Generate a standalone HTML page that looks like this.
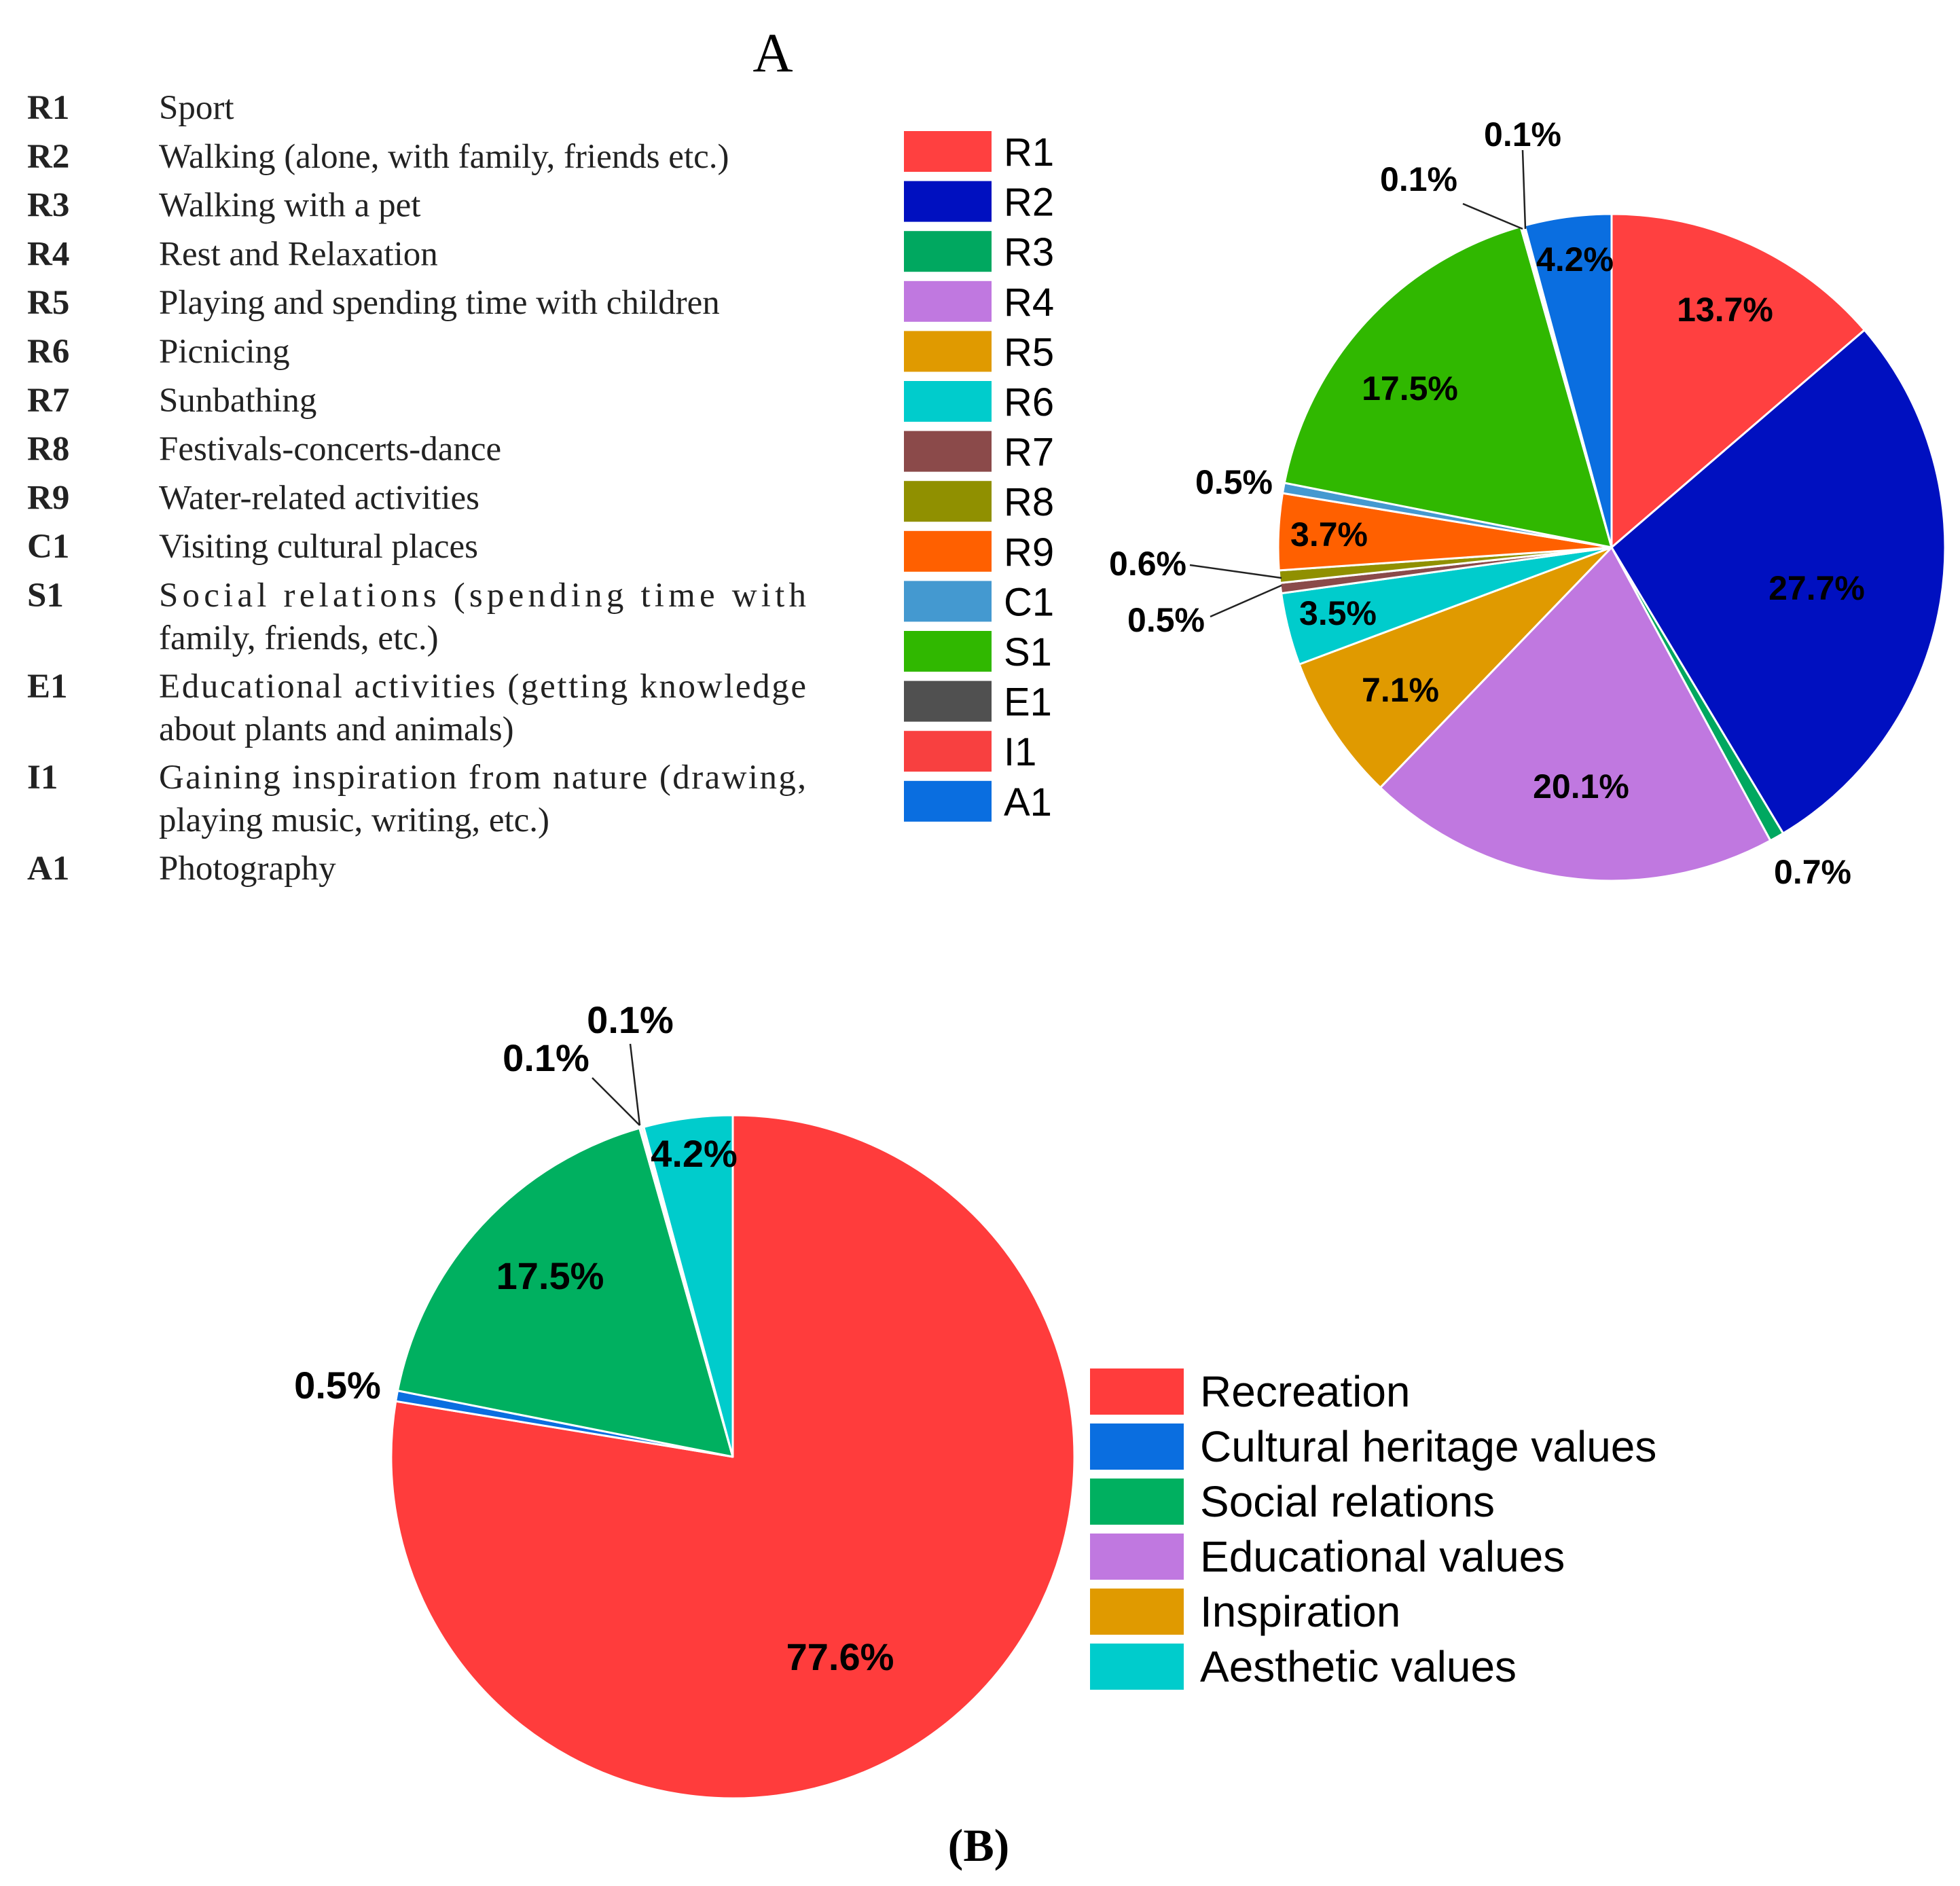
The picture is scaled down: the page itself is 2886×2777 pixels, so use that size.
<!DOCTYPE html>
<html><head><meta charset="utf-8"><style>
html,body{margin:0;padding:0;background:#fff}
svg{display:block}
</style></head><body>
<svg id="chart" width="2886" height="2777" viewBox="0 0 2886 2777" xmlns="http://www.w3.org/2000/svg">
<text x="1138" y="105" font-family="Liberation Serif, serif" font-size="82" text-anchor="middle">A</text>
<g id="codeList" font-family="Liberation Serif, serif" font-size="51" fill="#222"></g>
<g id="legendA" font-family="Liberation Sans, sans-serif" font-size="58"></g>
<g id="pieA"></g>
<g id="labelsA" font-family="Liberation Sans, sans-serif" font-size="50" font-weight="bold"></g>
<g id="pieB"></g>
<g id="labelsB" font-family="Liberation Sans, sans-serif" font-size="56" font-weight="bold"></g>
<g id="legendB" font-family="Liberation Sans, sans-serif" font-size="64"></g>
<text x="1441" y="2740" font-family="Liberation Serif, serif" font-size="68" font-weight="bold" text-anchor="middle">(B)</text>
</svg>
<script>
const NS='http://www.w3.org/2000/svg';
const codesA=['R1','R2','R3','R4','R5','R6','R7','R8','R9','C1','S1','E1','I1','A1'];
const valuesA=[13.7,27.7,0.7,20.1,7.1,3.5,0.5,0.6,3.7,0.5,17.5,0.1,0.1,4.2];
const colorsA=['#ff4040','#0010c0','#00a860','#c078e0','#e09a00','#00cccc','#8b4a4a','#909000','#ff6000','#4499d0','#30b800','#505050','#f84040','#0a6ee0'];
const descA=[['Sport'],[' Walking (alone, with family, friends etc.)'],[' Walking with a pet'],['Rest and Relaxation'],['Playing and spending time with children'],['Picnicing'],['Sunbathing'],[' Festivals-concerts-dance'],['Water-related activities'],['Visiting cultural places'],[' Social   relations   (spending   time   with','family, friends, etc.)'],['Educational activities (getting knowledge','about plants and animals)'],['Gaining inspiration from nature (drawing,','playing music, writing, etc.)'],['Photography']];
const catsB=['Recreation','Cultural heritage values','Social relations','Educational values','Inspiration','Aesthetic values'];
const valuesB=[77.6,0.5,17.5,0.1,0.1,4.2];
const colorsB=['#ff3c3c','#0a6ee0','#00b060','#c078e0','#e09a00','#00cccc'];

function el(tag,attrs,parent){const e=document.createElementNS(NS,tag);for(const k in attrs)e.setAttribute(k,attrs[k]);parent.appendChild(e);return e;}

const cl=document.getElementById('codeList');
let y=175;
codesA.forEach((c,i)=>{
  const t=el('text',{x:40,y:y,'font-weight':'bold'},cl);t.textContent=c;
  
  
  descA[i].forEach((line,j)=>{
    const wrapped=descA[i].length>1&&j===0;
    const a={x:234,y:y+j*63,'xml:space':'preserve'};
    if(wrapped){a.textLength=953;a.lengthAdjust='spacing';}
    const d=el('text',a,cl);d.textContent=line;
    
    
  });
  y+= descA[i].length>1 ? 134 : 71.8;
});

const la=document.getElementById('legendA');
codesA.forEach((c,i)=>{
  const cy=223+i*73.6;
  const r=el('rect',{x:1331,y:cy-30,width:129,height:60,fill:colorsA[i]},la);
  
  
  const t=el('text',{x:1478,y:cy+21},la);t.textContent=c;
  
  
});

function drawPie(g,vals,cols,cx,cy,r,names){
  const tot=vals.reduce((a,b)=>a+b,0);let a0=0;
  vals.forEach((v,i)=>{
    const a1=a0+v/tot*2*Math.PI;
    const x0=cx+r*Math.sin(a0),y0=cy-r*Math.cos(a0),x1=cx+r*Math.sin(a1),y1=cy-r*Math.cos(a1);
    const large=(a1-a0)>Math.PI?1:0;
    const p=el('path',{d:`M${cx},${cy}L${x0},${y0}A${r},${r} 0 ${large} 1 ${x1},${y1}Z`,fill:cols[i],stroke:'#fff','stroke-width':3,'stroke-linejoin':'round'},g);
    
    
    a0=a1;
  });
}
drawPie(document.getElementById('pieA'),valuesA,colorsA,2373,806,491,codesA.map(c=>c.toLowerCase()));
drawPie(document.getElementById('pieB'),valuesB,colorsB,1079,2145,503,catsB.map(c=>c.toLowerCase().replace(/ /g,'-')));

const labPosA=[[2540,473],[2675,883],[2669,1301],[2328,1175],[2062,1033],[1970,920],[1717,930],[1690,847],[1957,804],[1817,727],[2076,589],[2089,281],[2242,215],[2319,399]];
const lA=document.getElementById('labelsA');
valuesA.forEach((v,i)=>{
  const p=labPosA[i];
  const t=el('text',{x:p[0],y:p[1],'text-anchor':'middle'},lA);t.textContent=v.toFixed(1)+'%';
  
  
});
[[2242,221,2246,337],[2154,300,2242,337],[1752,832,1887,851],[1782,908,1887,862]].forEach(l=>{
  const ln=el('line',{x1:l[0],y1:l[1],x2:l[2],y2:l[3],stroke:'#222','stroke-width':2.5},lA);
  
  
});

const labPosB=[[1237,2459],[497,2059],[810,1898],[804,1577],[928,1521],[1022,1718]];
const lB=document.getElementById('labelsB');
valuesB.forEach((v,i)=>{
  const t=el('text',{x:labPosB[i][0],y:labPosB[i][1],'text-anchor':'middle'},lB);t.textContent=v.toFixed(1)+'%';
  
  
});
[[928,1537,942,1657],[872,1587,942,1657]].forEach(l=>{
  const ln=el('line',{x1:l[0],y1:l[1],x2:l[2],y2:l[3],stroke:'#222','stroke-width':2.5},lB);
  
  
});

const lgB=document.getElementById('legendB');
catsB.forEach((c,i)=>{
  const cy=2049+i*81;
  const r=el('rect',{x:1605,y:cy-34,width:138,height:68,fill:colorsB[i]},lgB);
  
  
  const t=el('text',{x:1767,y:cy+22},lgB);t.textContent=c;
  
  
});
</script>
</body></html>
